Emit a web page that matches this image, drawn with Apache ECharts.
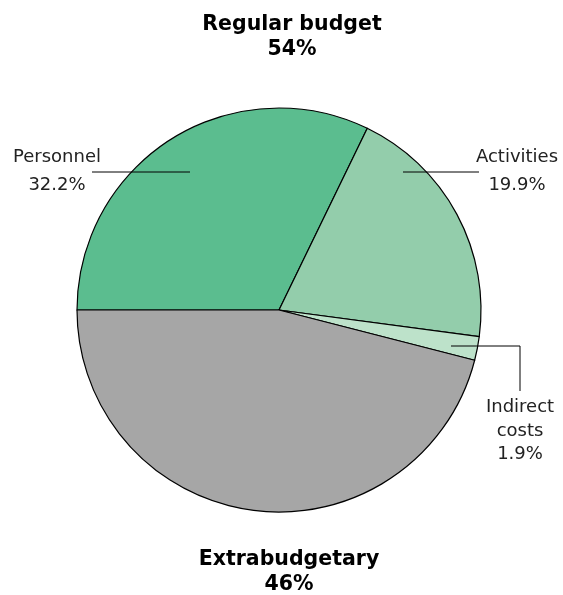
<!DOCTYPE html>
<html>
<head>
<meta charset="utf-8">
<script src="https://cdn.jsdelivr.net/npm/echarts@6/dist/echarts.min.js"></script>
<style>
  html, body { margin: 0; padding: 0; background: #fff; }
  #main { width: 563px; height: 595px; }
</style>
</head>
<body>
<div id="main"></div>
<script>
// slices, clockwise from 9 o'clock
const names = ['Personnel', 'Activities', 'Indirect costs', 'Extrabudgetary'];
const shares = [32.2, 19.9, 1.9, 46];
const labelTexts = ['Personnel\n32.2%', 'Activities\n19.9%', 'Indirect\ncosts\n1.9%', ''];
const colors = ['#5bbd8f', '#93cdab', '#bde2ca', '#a6a6a6'];
const groupTitles = ['Regular budget\n54%', 'Extrabudgetary\n46%'];

// where each label and its leader line go
const labelSpots = [
  { x: 57, y: 171, line: [[190, 172], [92, 172]] },
  { x: 517, y: 171, line: [[403, 172], [479, 172]] },
  { x: 520, y: 431, line: [[451, 346], [520, 346], [520, 391]] },
  null
];

const chart = echarts.init(document.getElementById('main'));

const font = 'DejaVu Sans, Verdana, sans-serif';

chart.setOption({
  backgroundColor: '#fff',
  animation: false,
  textStyle: { fontFamily: font },
  title: [
    {
      text: groupTitles[0],
      left: 287, top: 7,
      textAlign: 'center',
      textStyle: { fontFamily: font, fontSize: 20.5, fontWeight: 'bold', lineHeight: 25, color: '#000' }
    },
    {
      text: groupTitles[1],
      left: 284, top: 542,
      textAlign: 'center',
      textStyle: { fontFamily: font, fontSize: 20.5, fontWeight: 'bold', lineHeight: 25, color: '#000' }
    }
  ],
  graphic: labelSpots.filter(Boolean).map(function (s) {
    return {
      type: 'polyline',
      z: 100,
      silent: true,
      shape: { points: s.line },
      style: { stroke: '#000', lineWidth: 1, fill: null }
    };
  }),
  series: [
    {
      type: 'pie',
      center: [279, 310],
      radius: 202,
      startAngle: 180,
      clockwise: true,
      avoidLabelOverlap: false,
      itemStyle: { borderColor: '#000', borderWidth: 1.2 },
      label: {
        show: true,
        color: '#222',
        fontFamily: font,
        fontSize: 18,
        lineHeight: 28,
        align: 'center',
        formatter: function (p) { return labelTexts[p.dataIndex]; }
      },
      labelLine: { show: false },
      labelLayout: function (p) {
        const s = labelSpots[p.dataIndex];
        if (!s) return { x: -100, y: -100 };
        return { x: s.x, y: s.y, align: 'center', verticalAlign: 'middle' };
      },
      data: names.map(function (n, i) {
        const d = { name: n, value: shares[i], itemStyle: { color: colors[i] } };
        if (i === 2) d.label = { lineHeight: 23.5 };
        if (i === 3) d.label = { show: false };
        return d;
      })
    }
  ]
});
</script>
</body>
</html>
